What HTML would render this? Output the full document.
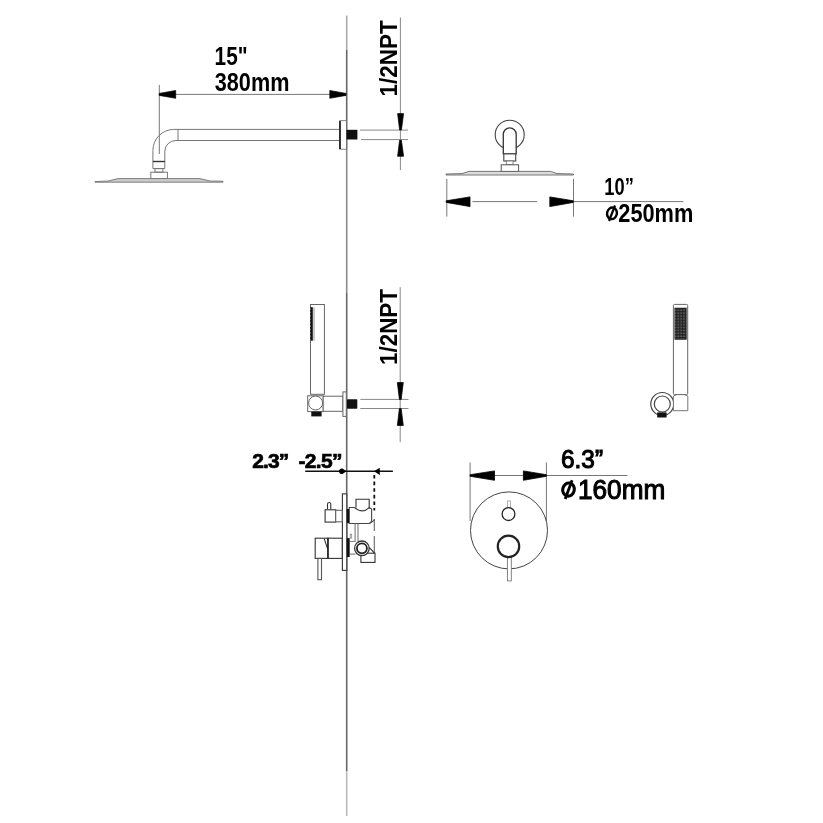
<!DOCTYPE html>
<html><head><meta charset="utf-8">
<style>
html,body{margin:0;padding:0;background:#fff;width:823px;height:823px;overflow:hidden}
svg{display:block;will-change:transform}
text{font-family:"Liberation Sans",sans-serif}
</style></head><body>
<svg width="823" height="823" viewBox="0 0 823 823">
<defs>
<pattern id="hatch" x="0" y="307.4" width="4" height="3.4" patternUnits="userSpaceOnUse">
<rect width="4" height="3.4" fill="#111"/><rect x="1.8" y="1.2" width="1" height="1" fill="#bbb"/>
</pattern>
<pattern id="dots" x="674.7" y="308" width="2.9" height="2.9" patternUnits="userSpaceOnUse">
<rect width="2.9" height="2.9" fill="#222"/><rect x="0.2" y="1.6" width="1" height="1" fill="#ccc"/>
</pattern>
</defs>
<rect width="823" height="823" fill="#fff"/>
<!-- wall line -->
<g stroke-width="1.6" fill="none">
<line x1="346.7" y1="15.5" x2="346.7" y2="50" stroke="#aaa"/>
<line x1="346.7" y1="50" x2="346.7" y2="149" stroke="#666"/>
<line x1="346.7" y1="149" x2="346.7" y2="293" stroke="#8a8a8a"/>
<line x1="346.7" y1="293" x2="346.7" y2="771" stroke="#666"/>
<line x1="346.7" y1="771" x2="346.7" y2="816" stroke="#bbb"/>
</g>

<!-- ===== A: top-left shower arm ===== -->
<g stroke="#777" stroke-width="1" fill="none">
<line x1="159.3" y1="85" x2="159.3" y2="154"/>
<line x1="160" y1="94.4" x2="346" y2="94.4"/>
<path d="M339.4,129.4 H173.8 A20.9,21.2 0 0 0 152.9,150.6 V168.6"/>
<path d="M339.4,140.5 H176 A11.2,10.7 0 0 0 164.8,151.2 V168.6"/>
<line x1="178" y1="129.4" x2="178" y2="140.5"/>
<line x1="152.9" y1="168.6" x2="164.8" y2="168.6"/>
<rect x="155" y="168.6" width="7.9" height="3.6"/>
<rect x="150.8" y="172.2" width="16.6" height="6.7"/>
</g>
<line x1="152.9" y1="161.5" x2="164.8" y2="161.5" stroke="#333" stroke-width="1.4"/>
<path d="M95,181.6 L108,181 L118,178.6 L200,178.6 L210,181 L223,181.2 L223,182.2 L95,182.2 Z" fill="#ccc" stroke="#666" stroke-width="0.8"/>
<path d="M159.2,93.4 L175.7,90.5 L175.7,98.3 L159.2,95.4 Z" fill="#000" stroke="#000" stroke-width="0.7" stroke-linejoin="round"/>
<path d="M346,93.4 L329.8,90.5 L329.8,98.3 L346,95.4 Z" fill="#000" stroke="#000" stroke-width="0.7" stroke-linejoin="round"/>
<!-- escutcheon -->
<rect x="339.8" y="120.7" width="6.7" height="28.5" fill="#fff" stroke="#666" stroke-width="0.8"/>
<line x1="340" y1="121" x2="340" y2="149" stroke="#111" stroke-width="1.6"/>
<rect x="346.5" y="129.8" width="10.9" height="9.7" fill="#111"/>
<g stroke="#888" stroke-width="1">
<line x1="360" y1="130.1" x2="408" y2="130.1"/>
<line x1="361" y1="139.6" x2="408" y2="139.6"/>
<line x1="400.4" y1="17.5" x2="400.4" y2="170"/>
</g>
<path d="M399.6,130 L397.6,113.6 L403.6,113.6 L401.4,130 Z" fill="#000" stroke="#000" stroke-width="0.7" stroke-linejoin="round"/>
<path d="M399.6,140.2 L397.6,156.3 L403.6,156.3 L401.4,140.2 Z" fill="#000" stroke="#000" stroke-width="0.7" stroke-linejoin="round"/>
<text x="0" y="0" font-size="23" font-weight="bold" fill="#000" transform="translate(397.2,96.4) rotate(-90)" textLength="76" lengthAdjust="spacingAndGlyphs">1/2NPT</text>
<text x="214.6" y="64.6" font-size="25.8" font-weight="bold" fill="#000" textLength="33" lengthAdjust="spacingAndGlyphs">15"</text>
<text x="214.8" y="90.6" font-size="26.5" font-weight="bold" fill="#000" textLength="74.6" lengthAdjust="spacingAndGlyphs">380mm</text>

<!-- ===== B: top-right shower head ===== -->
<g stroke="#444" stroke-width="1.1" fill="#fff">
<circle cx="509.7" cy="134.7" r="14.5"/>
<path d="M503.3,153.9 V134.35 A6.45,6.45 0 0 1 516.2,134.35 V153.9 Z" stroke="#333" stroke-width="1.3"/>
<rect x="503.8" y="153.9" width="11.9" height="7.1"/>
<rect x="506.3" y="161" width="6.8" height="3.8" stroke="#777" stroke-width="0.9"/>
<rect x="501.2" y="164.8" width="17.4" height="6.8" stroke="#555" stroke-width="1"/>
</g>
<path d="M446,174 L462,173.6 L469,171.4 L550.5,171.4 L557,173.6 L573.5,174 L573.5,175 L446,175 Z" fill="#ddd" stroke="#555" stroke-width="0.8"/>
<g stroke="#777" stroke-width="1">
<line x1="446.8" y1="179" x2="446.8" y2="216.6"/>
<line x1="573.5" y1="179" x2="573.5" y2="216.6"/>
<line x1="472.4" y1="201.6" x2="537.2" y2="201.6"/>
<line x1="573.5" y1="201.6" x2="683.3" y2="201.6"/>
</g>
<path d="M446.2,200.8 L470,196.9 L470,206.6 L446.2,202.4 Z" fill="#000" stroke="#000" stroke-width="0.8" stroke-linejoin="round"/>
<path d="M573.3,200.8 L549.8,196.9 L549.8,206.6 L573.3,202.4 Z" fill="#000" stroke="#000" stroke-width="0.8" stroke-linejoin="round"/>
<text x="604.3" y="194.6" font-size="24.5" font-weight="bold" fill="#000" textLength="29.5" lengthAdjust="spacingAndGlyphs">10”</text>
<!-- phi -->
<ellipse cx="612" cy="213.35" rx="4.9" ry="5.8" transform="rotate(12 612 213.35)" fill="none" stroke="#000" stroke-width="2.4"/>
<line x1="615" y1="205.5" x2="609" y2="221" stroke="#000" stroke-width="2.2"/>
<text x="618.3" y="221.9" font-size="25.5" font-weight="bold" fill="#000" textLength="75" lengthAdjust="spacingAndGlyphs">250mm</text>

<!-- ===== C: left hand shower ===== -->
<g stroke="#666" stroke-width="1" fill="#fff">
<rect x="310.5" y="304.5" width="13.9" height="89.8"/>
<rect x="307.7" y="395.8" width="15.5" height="15.8"/>
<circle cx="315.6" cy="403" r="7"/>
<rect x="323.2" y="396.2" width="19.7" height="15.1"/>
<rect x="342.9" y="391.9" width="3.4" height="24.5"/>
</g>

<rect x="310.2" y="307.2" width="2.6" height="33.5" fill="url(#hatch)"/><line x1="314" y1="307.5" x2="314" y2="340.8" stroke="#888" stroke-width="0.9"/>
<rect x="347" y="399.2" width="10.3" height="9.5" rx="0.8" fill="#111"/>
<rect x="311.3" y="411.6" width="10.3" height="4.8" fill="#111"/>
<g stroke="#888" stroke-width="1">
<line x1="360.3" y1="399.4" x2="408.5" y2="399.4"/>
<line x1="360.3" y1="408.5" x2="408.5" y2="408.5"/>
<line x1="400.2" y1="287.2" x2="400.2" y2="442.2"/>
</g>
<path d="M399.4,399.4 L397.3,382.5 L403.3,382.5 L401.2,399.4 Z" fill="#000" stroke="#000" stroke-width="0.7" stroke-linejoin="round"/>
<path d="M399.4,408.6 L397.3,425.5 L403.3,425.5 L401.2,408.6 Z" fill="#000" stroke="#000" stroke-width="0.7" stroke-linejoin="round"/>
<text x="0" y="0" font-size="23" font-weight="bold" fill="#000" transform="translate(397.2,365) rotate(-90)" textLength="76" lengthAdjust="spacingAndGlyphs">1/2NPT</text>

<!-- ===== D: right hand shower ===== -->
<g stroke="#444" stroke-width="1" fill="#fff">
<circle cx="662.3" cy="404" r="11.5" stroke-width="1.2"/>
<circle cx="662.3" cy="404" r="8" stroke-width="1.2"/>
<path d="M673.4,396 Q680.6,392 687.8,396 V410.7 H673.4 Z" stroke="#777"/>
<rect x="673.4" y="304.4" width="14.3" height="90.2" rx="1" stroke="#666"/>
</g>
<rect x="674.8" y="308" width="11.6" height="31.6" fill="url(#dots)" stroke="#333" stroke-width="0.6"/>
<rect x="657.2" y="412.4" width="9.4" height="5.1" fill="#111"/>

<!-- ===== E: valve side ===== -->
<text x="252.3" y="468" font-size="21" font-weight="bold" fill="#000" stroke="#000" stroke-width="0.7" textLength="37" lengthAdjust="spacing">2.3”</text>
<text x="298.5" y="468" font-size="21" font-weight="bold" fill="#000" stroke="#000" stroke-width="0.7" textLength="44" lengthAdjust="spacing">-2.5”</text>
<line x1="305.2" y1="471.3" x2="392.9" y2="471.3" stroke="#111" stroke-width="1.6"/>
<path d="M346.4,471.3 L342.5,468.6 A2.8,2.8 0 1 0 342.5,474 Z" fill="#000"/>
<path d="M374,471.3 L379.8,467.7 L379.8,474.9 Z" fill="#000"/>
<line x1="374.3" y1="475" x2="374.3" y2="510.5" stroke="#111" stroke-width="1.8" stroke-dasharray="3.6,3"/>
<g stroke="#333" stroke-width="1.1" fill="#fff">
<rect x="342.4" y="493.9" width="4.4" height="76.5"/>
<path d="M327.5,509.2 V504.2 A1.65,1.65 0 0 1 330.8,504.2 V509.2"/>
<rect x="325.1" y="509.8" width="10.6" height="12.3"/>
<rect x="335.7" y="510.3" width="6.5" height="11.5" stroke="#666"/>
<path d="M356,507.5 V499.2 H369.2 V507.5" />
<path d="M349.2,523.5 V507.5 H354.6 Q358,510.9 362.4,510.9 Q366,510.9 369.2,507.5 L371.6,509 V520 Q371.6,523.5 368.5,523.5 Z" stroke="#444" stroke-width="1.1"/>
<path d="M369.5,523 Q373,522 374.5,519.4" stroke="#444" fill="none"/>
<line x1="374.3" y1="519" x2="374.3" y2="531" stroke="#666"/>
<line x1="374.3" y1="536" x2="374.3" y2="553" stroke="#666"/>
<line x1="355.1" y1="523.5" x2="355.1" y2="541.5" stroke="#777"/>
<line x1="358" y1="523.5" x2="358" y2="541.5" stroke="#777"/>
<rect x="315.2" y="538.2" width="12.8" height="20.2"/>
<line x1="324.2" y1="538.7" x2="327.5" y2="548.6"/>
<rect x="328" y="538.2" width="14.2" height="20.2"/>
<line x1="328" y1="538.2" x2="328" y2="558.4" stroke="#222" stroke-width="1.4"/>
<rect x="317.9" y="558.4" width="3.6" height="21.3" stroke="#555"/>
<rect x="350.2" y="534.2" width="1.5" height="3.9" stroke="#888" stroke-width="0.8"/>
<path d="M349.7,541.5 H355.5 M349.7,554.1 H355.5" stroke="#888" fill="none"/>
<rect x="360.9" y="553.2" width="14.1" height="9.2"/>
<path d="M369.2,547.3 L374.5,553.2" fill="none"/>
<circle cx="361.9" cy="548.3" r="7.3" stroke="#333" stroke-width="1.3"/>
<circle cx="361.9" cy="548.3" r="5" stroke="#222" stroke-width="1.8"/>
</g>
<rect x="346.8" y="509" width="2.4" height="14" fill="#111"/>
<rect x="346.8" y="538.1" width="2.9" height="18.9" fill="#111"/>

<!-- ===== F: valve trim front ===== -->
<g stroke="#777" stroke-width="1" fill="none">
<line x1="470.1" y1="462.4" x2="470.1" y2="521"/>
<line x1="546.4" y1="462.4" x2="546.4" y2="521"/>
<line x1="470" y1="475.5" x2="627.5" y2="475.5"/>
</g>
<path d="M470.1,474.7 L494.5,470.9 L494.5,480.3 L470.1,476.3 Z" fill="#000" stroke="#000" stroke-width="0.8" stroke-linejoin="round"/>
<path d="M546.4,474.7 L523.4,470.9 L523.4,480.3 L546.4,476.3 Z" fill="#000" stroke="#000" stroke-width="0.8" stroke-linejoin="round"/>
<g stroke="#555" fill="#fff">
<circle cx="509" cy="530.4" r="38.5" stroke-width="1" stroke="#444"/>
<rect x="507.4" y="501" width="3" height="6.6" stroke-width="0.8" stroke="#999"/>
<circle cx="508.5" cy="514.1" r="6.4" stroke-width="1.3" stroke="#222"/>
<rect x="507.4" y="556" width="3.9" height="24.9" stroke-width="0.9" stroke="#777"/>
<circle cx="508.5" cy="546.4" r="10.7" stroke-width="2.2" stroke="#222"/>
</g>
<text x="561" y="467.8" font-size="26" fill="#000" stroke="#000" stroke-width="1.1" textLength="42" lengthAdjust="spacingAndGlyphs">6.3”</text>
<ellipse cx="568.5" cy="489.55" rx="5.8" ry="6.6" transform="rotate(12 568.5 489.55)" fill="none" stroke="#000" stroke-width="3.1"/>
<line x1="572.1" y1="480.2" x2="565.2" y2="499" stroke="#000" stroke-width="2.8"/>
<text x="578" y="499.4" font-size="28" fill="#000" stroke="#000" stroke-width="1.1" textLength="87.3" lengthAdjust="spacingAndGlyphs">160mm</text>
</svg>
</body></html>
